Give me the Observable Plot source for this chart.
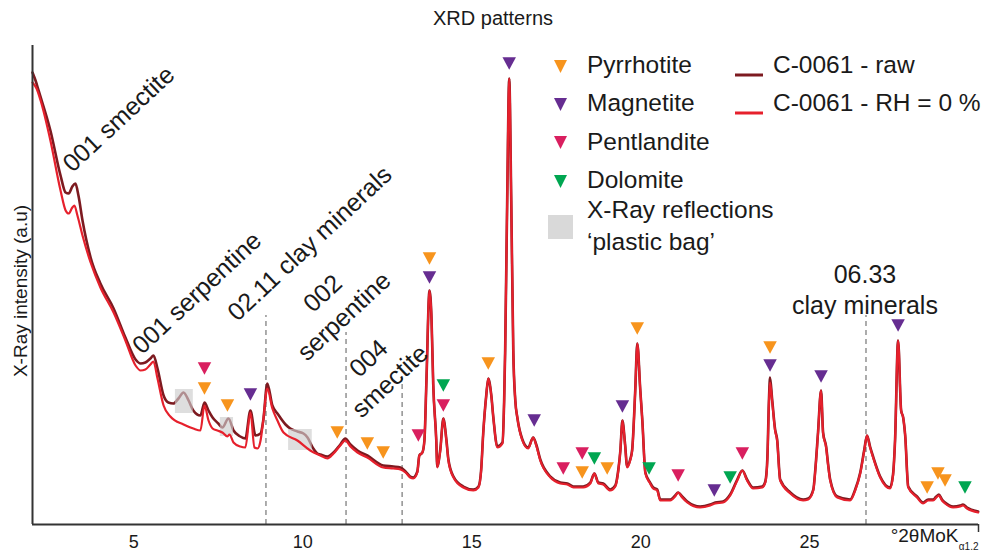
<!DOCTYPE html>
<html>
<head>
<meta charset="utf-8">
<script src="https://cdn.jsdelivr.net/npm/d3@7"></script>
<script src="https://cdn.jsdelivr.net/npm/@observablehq/plot@0.6"></script>
<style>
  html, body { margin: 0; padding: 0; background: #fff; }
  #wrap { position: relative; width: 986px; height: 551px; overflow: hidden;
          font-family: "Liberation Sans", Arial, Helvetica, sans-serif; color: #1a1a1a; }
  #title { height: 30px; box-sizing: border-box; padding-top: 7px; line-height: 22px;
           text-align: center; font-size: 20px; }
  #legend { position: absolute; left: 0; top: 0; width: 986px; height: 551px; pointer-events: none; }
  .item { position: absolute; font-size: 24.5px; line-height: 28px; white-space: nowrap; }
  .sym { position: absolute; }
</style>
</head>
<body>
<div id="wrap">
  <div id="title">XRD patterns</div>
  <div id="chart"></div>
  <div id="legend"></div>
</div>
<script>
// ---- Diffractograms of sample C-0061 (°2θ, Mo Kα1,2; intensity in arbitrary units) ----
const rawTheta = [2.00,2.09,2.18,2.53,2.83,2.98,3.07,3.18,3.27,3.36,3.48,3.72,4.01,4.40,4.75,5.05,5.20,5.34,5.49,5.58,5.70,5.88,6.02,6.17,6.32,6.47,6.62,6.76,6.97,7.09,7.21,7.33,7.50,7.62,7.80,7.95,8.15,8.30,8.45,8.60,8.75,8.83,8.95,9.10,9.25,9.49,9.63,9.84,10.02,10.14,10.31,10.43,10.52,10.73,10.91,11.11,11.26,11.41,11.62,11.91,12.38,12.68,12.89,13.04,13.18,13.27,13.39,13.45,13.54,13.60,13.66,13.75,13.81,13.86,13.95,13.98,14.07,14.16,14.25,14.31,14.46,14.75,15.05,15.20,15.28,15.34,15.43,15.49,15.58,15.64,15.76,15.91,15.96,15.99,16.05,16.11,16.17,16.23,16.29,16.35,16.50,16.67,16.82,16.91,17.03,17.33,17.62,17.83,18.01,18.30,18.51,18.63,18.75,18.89,19.10,19.25,19.34,19.40,19.46,19.54,19.60,19.69,19.75,19.84,19.90,19.99,20.05,20.14,20.28,20.37,20.49,20.58,20.88,21.02,21.11,21.23,21.38,21.76,22.06,22.21,22.44,22.65,22.86,23.01,23.15,23.33,23.60,23.69,23.75,23.80,23.83,23.89,23.98,24.04,24.13,24.43,24.81,24.96,25.11,25.17,25.25,25.34,25.40,25.49,25.55,25.61,25.82,26.20,26.35,26.50,26.62,26.70,26.79,26.88,27.09,27.38,27.47,27.53,27.62,27.71,27.77,27.83,27.92,28.18,28.36,28.51,28.66,28.75,28.83,28.92,29.01,29.25,29.46,29.54,29.66,29.99];
const rawCounts = [452,444,434,394,349,332,331,338,341,329,304,267,241,216,187,165,161,162,166,169,156,129,122,121,126,132,124,114,109,122,114,107,101,97,106,94,88,86,114,89,91,104,141,119,111,100,96,93,91,87,76,71,70,68,72,80,86,80,74,69,59,58,57,53,48,47,53,69,72,84,144,234,206,141,85,58,75,106,85,65,48,38,35,38,55,91,129,146,129,107,78,82,124,174,324,446,324,174,124,107,85,77,87,80,65,48,42,41,38,38,42,51,42,41,35,39,55,74,104,80,58,65,75,134,181,134,104,52,42,37,35,25,25,29,32,28,23,18,20,22,23,30,45,54,45,37,38,43,66,127,147,126,95,85,45,32,25,26,35,55,92,134,92,78,60,45,28,25,35,52,75,89,78,68,48,37,50,84,184,114,107,89,38,28,22,25,25,28,30,25,22,18,19,20,17,13];

const dryTheta = [2.00,2.12,2.24,2.53,2.83,2.98,3.07,3.18,3.24,3.33,3.48,3.72,4.01,4.40,4.75,5.05,5.20,5.34,5.49,5.58,5.70,5.88,6.08,6.47,6.76,6.97,7.09,7.21,7.33,7.47,7.62,7.77,7.83,7.95,8.15,8.30,8.45,8.57,8.66,8.75,8.83,8.95,9.10,9.25,9.43,9.84,10.22,10.52,10.73,10.91,11.11,11.26,11.41,11.62,11.91,12.38,12.68,12.89,13.04,13.18,13.27,13.39,13.45,13.54,13.60,13.66,13.75,13.81,13.86,13.95,13.98,14.07,14.16,14.25,14.31,14.46,14.75,15.05,15.20,15.28,15.34,15.43,15.49,15.58,15.64,15.76,15.91,15.96,15.99,16.05,16.11,16.17,16.23,16.29,16.35,16.50,16.67,16.82,16.91,17.03,17.33,17.62,17.83,18.01,18.30,18.51,18.63,18.75,18.89,19.10,19.25,19.34,19.40,19.46,19.54,19.60,19.69,19.75,19.84,19.90,19.99,20.05,20.14,20.28,20.37,20.49,20.58,20.88,21.02,21.11,21.23,21.38,21.76,22.06,22.21,22.44,22.65,22.86,23.01,23.15,23.33,23.60,23.69,23.75,23.80,23.83,23.89,23.98,24.04,24.13,24.43,24.81,24.96,25.11,25.17,25.25,25.34,25.40,25.49,25.55,25.61,25.82,26.20,26.35,26.50,26.62,26.70,26.79,26.88,27.09,27.38,27.47,27.53,27.62,27.71,27.77,27.83,27.92,28.18,28.36,28.51,28.66,28.75,28.83,28.92,29.01,29.25,29.46,29.54,29.66,29.99];
const dryCounts = [442,436,424,384,334,314,311,317,319,309,289,262,237,212,184,159,154,155,160,163,146,119,108,100,96,94,119,104,96,94,92,88,90,82,78,77,112,77,76,84,104,136,116,104,92,84,74,69,66,71,79,84,78,72,67,57,56,55,52,47,46,52,69,72,84,144,234,206,141,84,57,74,106,84,64,47,37,34,37,54,91,129,146,129,107,77,81,124,174,324,446,324,174,124,107,84,76,87,79,64,47,41,40,37,37,41,51,41,40,34,38,54,74,104,79,57,64,74,134,181,134,104,51,41,36,34,24,24,28,32,27,22,17,19,21,22,29,44,54,44,36,37,42,64,124,142,124,94,84,44,31,24,25,34,54,91,134,91,77,59,44,27,24,34,51,74,89,77,67,47,36,49,84,184,114,107,89,37,27,21,24,24,27,29,24,21,17,18,19,16,12];

// Reflections of the sample holder ("plastic bag")
const bagFrom = [6.23, 7.56, 9.58];
const bagTo   = [6.76, 7.95, 10.28];
const bagLow  = [111, 88, 74];
const bagHigh = [135, 107, 95];

// Phase markers
const mineralNames  = ["Pyrrhotite", "Magnetite", "Pentlandite", "Dolomite"];
const mineralColors = ["#f7941d", "#662d91", "#d91f5f", "#00a651"];
const pyrrhotiteTheta  = [7.09, 7.77, 11.02, 11.91, 12.38, 13.75, 15.49, 18.27, 19.01, 19.90, 23.83, 28.48, 28.80, 29.01];
const pyrrhotiteCounts = [136, 119, 92, 81, 72, 266, 161, 52, 56, 196, 177, 37, 51, 44];
const magnetiteTheta   = [8.45, 13.75, 16.11, 16.85, 19.46, 22.18, 23.83, 25.34, 27.62];
const magnetiteCounts  = [130, 247, 461, 104, 118, 34, 159, 148, 199];
const pentlanditeTheta = [7.09, 13.42, 14.16, 17.71, 18.27, 21.11, 23.01];
const pentlanditeCounts= [156, 89, 119, 56, 71, 49, 71];
const dolomiteTheta    = [14.16, 18.63, 20.25, 22.65, 29.60];
const dolomiteCounts   = [139, 66, 56, 47, 37];

// Basal reflections of the sheet silicates
const slantLabels = ["001 smectite", "001 serpentine", "02.11 clay minerals"];
const slantTheta  = [3.02, 5.08, 7.90];
const slantCounts = [357, 175, 208];
const blockLabels = ["002\nserpentine", "004\nsmectite", "06.33\nclay minerals"];
const blockTheta  = [10.87, 12.23, 26.64];
const blockCounts = [221, 156, 236];
const blockAngle  = [-43, -43, 0];
const guideTheta  = [8.91, 11.28, 12.94, 26.67];
const guideTop    = [209, 192, 146, 209];

const xTicks = [5, 10, 15, 20, 25];
const seriesNames  = ["C-0061 - raw", "C-0061 - RH = 0 %"];
const seriesColors = ["#7d1a20", "#e6202c"];

// ---- tables for the marks ----
const raw = rawTheta.map((t, i) => ({theta: t, counts: rawCounts[i]}));
const dry = dryTheta.map((t, i) => ({theta: t, counts: dryCounts[i]}));
const bags = bagFrom.map((t, i) => ({x1: t, x2: bagTo[i], y1: bagLow[i], y2: bagHigh[i]}));
const markers = [
  [pyrrhotiteTheta, pyrrhotiteCounts, mineralNames[0]],
  [magnetiteTheta, magnetiteCounts, mineralNames[1]],
  [pentlanditeTheta, pentlanditeCounts, mineralNames[2]],
  [dolomiteTheta, dolomiteCounts, mineralNames[3]]
].flatMap(([ts, cs, name]) => ts.map((t, i) => ({theta: t, counts: cs[i], mineral: name})));
const slant = slantLabels.map((s, i) => ({label: s, theta: slantTheta[i], counts: slantCounts[i]}));
const blocks = blockLabels.map((s, i) => ({label: s, theta: blockTheta[i], counts: blockCounts[i], angle: blockAngle[i]}));
const guides = guideTheta.map((t, i) => ({theta: t, top: guideTop[i]}));

// Downward-pointing triangle
const downTriangle = {
  draw(context) {
    const w = 13.5, h = 12.5;
    context.moveTo(-w / 2, -h / 2);
    context.lineTo(w / 2, -h / 2);
    context.lineTo(0, h / 2);
    context.closePath();
  }
};

const font = '"Liberation Sans", Arial, Helvetica, sans-serif';

const chart = Plot.plot({
  width: 986,
  height: 521,
  marginLeft: 32,
  marginRight: 8,
  marginTop: 15,
  marginBottom: 27,
  x: {domain: [2, 30], label: null},
  y: {domain: [0, 479], axis: null, label: null},
  color: {domain: mineralNames, range: mineralColors},
  style: {fontFamily: font, fontSize: "18px", color: "#1a1a1a", background: "transparent", overflow: "visible"},
  marks: [
    Plot.ruleX(guides, {x: "theta", y1: 0, y2: "top", stroke: "#808080", strokeWidth: 1.3, strokeDasharray: "5,4"}),
    Plot.line(raw, {x: "theta", y: "counts", stroke: seriesColors[0], strokeWidth: 2.6, curve: "monotone-x"}),
    Plot.rect(bags, {x1: "x1", x2: "x2", y1: "y1", y2: "y2", fill: "#cdcdcd", fillOpacity: 0.65}),
    Plot.line(dry, {x: "theta", y: "counts", stroke: seriesColors[1], strokeWidth: 2.2, curve: "monotone-x"}),
    Plot.dot(markers, {x: "theta", y: "counts", fill: "mineral", symbol: downTriangle, r: 6, stroke: null}),
    Plot.text(slant, {x: "theta", y: "counts", text: "label", rotate: -43, textAnchor: "start", lineAnchor: "middle", fontSize: 25, fill: "#1a1a1a"}),
    Plot.text(blocks, {x: "theta", y: "counts", text: "label", rotate: "angle", textAnchor: "middle", lineAnchor: "middle", lineHeight: 1.25, fontSize: 25, fill: "#1a1a1a"}),
    Plot.ruleY([0], {stroke: "#333", strokeWidth: 2}),
    Plot.ruleX([2], {stroke: "#333", strokeWidth: 2}),
    Plot.ruleX([30], {y1: 0, y2: -8, stroke: "#333", strokeWidth: 1.5}),
    Plot.axisX({ticks: xTicks, tickSize: 0, tickPadding: 11, fontSize: 18, label: null}),
    Plot.text(["°2θMoK"], {frameAnchor: "bottom-right", textAnchor: "end", lineAnchor: "middle", dx: -20, dy: 11, fontSize: 19}),
    Plot.text(["α1.2"], {frameAnchor: "bottom-right", textAnchor: "end", lineAnchor: "middle", dy: 22, fontSize: 10}),
    Plot.text(["X-Ray intensity (a.u)"], {frameAnchor: "left", rotate: -90, dx: -12, dy: 6, textAnchor: "middle", lineAnchor: "middle", fontSize: 19})
  ]
});
document.getElementById("chart").appendChild(chart);

// ---- legend ----
const legend = document.getElementById("legend");
function place(html, cls, left, top) {
  const el = document.createElement("div");
  el.className = cls;
  el.style.left = left + "px";
  el.style.top = top + "px";
  el.innerHTML = html;
  legend.appendChild(el);
  return el;
}
mineralNames.forEach((name, i) => {
  const cy = 65 + i * 38.4;
  place(`<svg width="13" height="13"><polygon points="0,0 13,0 6.5,13" fill="${mineralColors[i]}"/></svg>`, "sym", 554, cy - 6.5);
  place(name, "item", 587, cy - 14);
});
place(`<svg width="25" height="24"><rect width="25" height="24" fill="#d9d9d9"/></svg>`, "sym", 548, 215);
place("X-Ray reflections", "item", 587, 196);
place("\u2018plastic bag\u2019", "item", 587, 228);
seriesNames.forEach((name, i) => {
  const cy = 65 + i * 38.4;
  place(`<svg width="28" height="4"><line x1="0" y1="2" x2="28" y2="2" stroke="${seriesColors[i]}" stroke-width="3"/></svg>`, "sym", 735, cy - 2);
  place(name, "item", 773, cy - 14);
});
</script>
</body>
</html>
